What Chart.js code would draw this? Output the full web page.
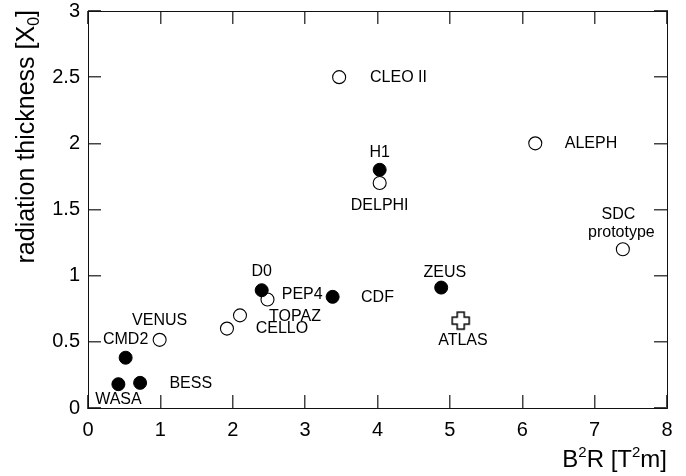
<!DOCTYPE html>
<html><head><meta charset="utf-8">
<script src="https://cdn.jsdelivr.net/npm/chart.js@4"></script>
<style>html,body{margin:0;padding:0;background:#fff}</style>
</head><body>
<canvas id="c" width="686" height="476"></canvas>
<script>
// ---- data ----
const filledNames = ['WASA', 'BESS', 'CMD2', 'D0', 'CDF', 'H1', 'ZEUS'];
const filledX = [0.42, 0.72, 0.52, 2.40, 3.38, 4.03, 4.88];
const filledY = [0.18, 0.19, 0.38, 0.89, 0.84, 1.80, 0.91];

const openNames = ['VENUS', 'CELLO', 'TOPAZ', 'PEP4', 'CLEO II', 'DELPHI', 'ALEPH', 'SDC prototype'];
const openX = [0.99, 1.92, 2.10, 2.48, 3.47, 4.03, 6.18, 7.39];
const openY = [0.515, 0.60, 0.70, 0.82, 2.50, 1.70, 2.00, 1.20];

const crossNames = ['ATLAS'];
const crossX = [5.15];
const crossY = [0.66];

const xTickLabels = ['0', '1', '2', '3', '4', '5', '6', '7', '8'];
const yTickLabels = ['0', '0.5', '1', '1.5', '2', '2.5', '3'];

// label texts and their anchors in data units
const labelTexts = ['WASA', 'BESS', 'CMD2', 'VENUS', 'CELLO', 'TOPAZ', 'D0', 'PEP4', 'CDF', 'CLEO II', 'H1', 'DELPHI', 'ALEPH', 'SDC', 'prototype', 'ZEUS', 'ATLAS'];
const labelX = [0.42, 1.42, 0.52, 0.99, 2.68, 2.86, 2.40, 2.96, 4.00, 4.29, 4.03, 4.03, 6.95, 7.33, 7.37, 4.93, 5.18];
const labelY = [0.067, 0.187, 0.515, 0.657, 0.597, 0.694, 1.03, 0.86, 0.836, 2.50, 1.933, 1.53, 2.00, 1.465, 1.328, 1.022, 0.507];

const FONT = "'Liberation Sans', Arial, Helvetica, sans-serif";

// outlined plus marker
function makeCross() {
  const s = 21, c = document.createElement('canvas');
  c.width = s; c.height = s;
  const g = c.getContext('2d');
  const m = 10.5, a = 3.5, L = 8.5;
  g.beginPath();
  g.moveTo(m - a, m - L); g.lineTo(m + a, m - L); g.lineTo(m + a, m - a);
  g.lineTo(m + L, m - a); g.lineTo(m + L, m + a); g.lineTo(m + a, m + a);
  g.lineTo(m + a, m + L); g.lineTo(m - a, m + L); g.lineTo(m - a, m + a);
  g.lineTo(m - L, m + a); g.lineTo(m - L, m - a); g.lineTo(m - a, m - a);
  g.closePath();
  g.fillStyle = '#fff'; g.fill();
  g.lineWidth = 1.5; g.strokeStyle = '#000'; g.stroke();
  return c;
}

const toPts = (xs, ys) => xs.map((x, i) => ({x, y: ys[i]}));

const textPlugin = {
  id: 'texts',
  afterDraw(chart) {
    const ctx = chart.ctx, a = chart.chartArea;
    const xs = chart.scales.x, ys = chart.scales.y;
    ctx.save();
    // point labels
    ctx.fillStyle = '#000';
    ctx.font = '16px ' + FONT;
    ctx.textAlign = 'center'; ctx.textBaseline = 'middle';
    labelTexts.forEach((t, i) => {
      ctx.fillText(t, xs.getPixelForValue(labelX[i]), ys.getPixelForValue(labelY[i]));
    });

    // y title with subscript
    ctx.textAlign = 'left'; ctx.textBaseline = 'alphabetic';
    ctx.save();
    ctx.translate(34, 10);
    ctx.rotate(-Math.PI / 2);
    const big = '25px ' + FONT, small = '16px ' + FONT;
    const p1 = 'radiation thickness [X', p2 = '0', p3 = ']';
    ctx.font = big; const w1 = ctx.measureText(p1).width, w3 = ctx.measureText(p3).width;
    ctx.font = small; const w2 = ctx.measureText(p2).width;
    let x0 = -(w1 + w2 + w3);
    ctx.font = big; ctx.fillText(p1, x0, 0); x0 += w1;
    ctx.font = small; ctx.fillText(p2, x0, 5); x0 += w2;
    ctx.font = big; ctx.fillText(p3, x0, 0);
    ctx.restore();

    // x title with superscripts
    const parts = [['B', 0], ['2', 1], ['R [T', 0], ['2', 1], ['m]', 0]];
    const bigX = '24px ' + FONT, smallX = '15px ' + FONT;
    let tw = 0;
    parts.forEach(p => { ctx.font = p[1] ? smallX : bigX; tw += ctx.measureText(p[0]).width; });
    let cx = a.right - tw, by = 467;
    parts.forEach(p => {
      ctx.font = p[1] ? smallX : bigX;
      ctx.fillText(p[0], cx, p[1] ? by - 10 : by);
      cx += ctx.measureText(p[0]).width;
    });
    ctx.restore();
  }
};

const gridIn = { display: true, drawOnChartArea: false, drawTicks: true, tickLength: -13, color: '#444', lineWidth: 1.5 };
const borderOn = { display: true, color: '#111', width: 1 };
const noPadV = s => { s.paddingTop = 0; s.paddingBottom = 0; };
const noPadH = s => { s.paddingLeft = 0; s.paddingRight = 0; };

new Chart(document.getElementById('c'), {
  type: 'scatter',
  data: {
    datasets: [
      { label: 'filled', data: toPts(filledX, filledY), pointStyle: 'circle', pointRadius: 6.5,
        backgroundColor: '#000', borderColor: '#000', borderWidth: 1 },
      { label: 'cross', data: toPts(crossX, crossY), pointStyle: makeCross(), pointRadius: 10 },
      { label: 'open', data: toPts(openX, openY), pointStyle: 'circle', pointRadius: 6.5,
        backgroundColor: '#fff', borderColor: '#000', borderWidth: 1.1 }
    ]
  },
  options: {
    responsive: false,
    animation: false,
    devicePixelRatio: 1,
    layout: { padding: { top: 6, right: 19, left: 0, bottom: 0 } },
    plugins: { legend: { display: false }, tooltip: { enabled: false } },
    scales: {
      x: {
        type: 'linear', position: 'bottom', min: 0, max: 8,
        grid: gridIn, border: borderOn,
        afterFit: s => { s.height = 68; noPadH(s); },
        ticks: { stepSize: 1, color: '#000', padding: 23, font: { family: FONT, size: 20 },
                 callback: (v, i) => xTickLabels[i] }
      },
      x2: {
        type: 'linear', position: 'top', min: 0, max: 8,
        grid: gridIn, border: borderOn,
        afterFit: s => { s.height = 0; noPadH(s); },
        ticks: { stepSize: 1, display: false }
      },
      y: {
        type: 'linear', position: 'left', min: 0, max: 3,
        grid: gridIn, border: borderOn,
        afterFit: s => { s.width = 88; noPadV(s); },
        ticks: { stepSize: 0.5, color: '#000', padding: 21, font: { family: FONT, size: 20, lineHeight: 0.4 },
                 callback: (v, i) => yTickLabels[i] }
      },
      y2: {
        type: 'linear', position: 'right', min: 0, max: 3,
        grid: gridIn, border: borderOn,
        afterFit: s => { s.width = 0; noPadV(s); },
        ticks: { stepSize: 0.5, display: false }
      }
    }
  },
  plugins: [textPlugin]
});
</script>
</body></html>
